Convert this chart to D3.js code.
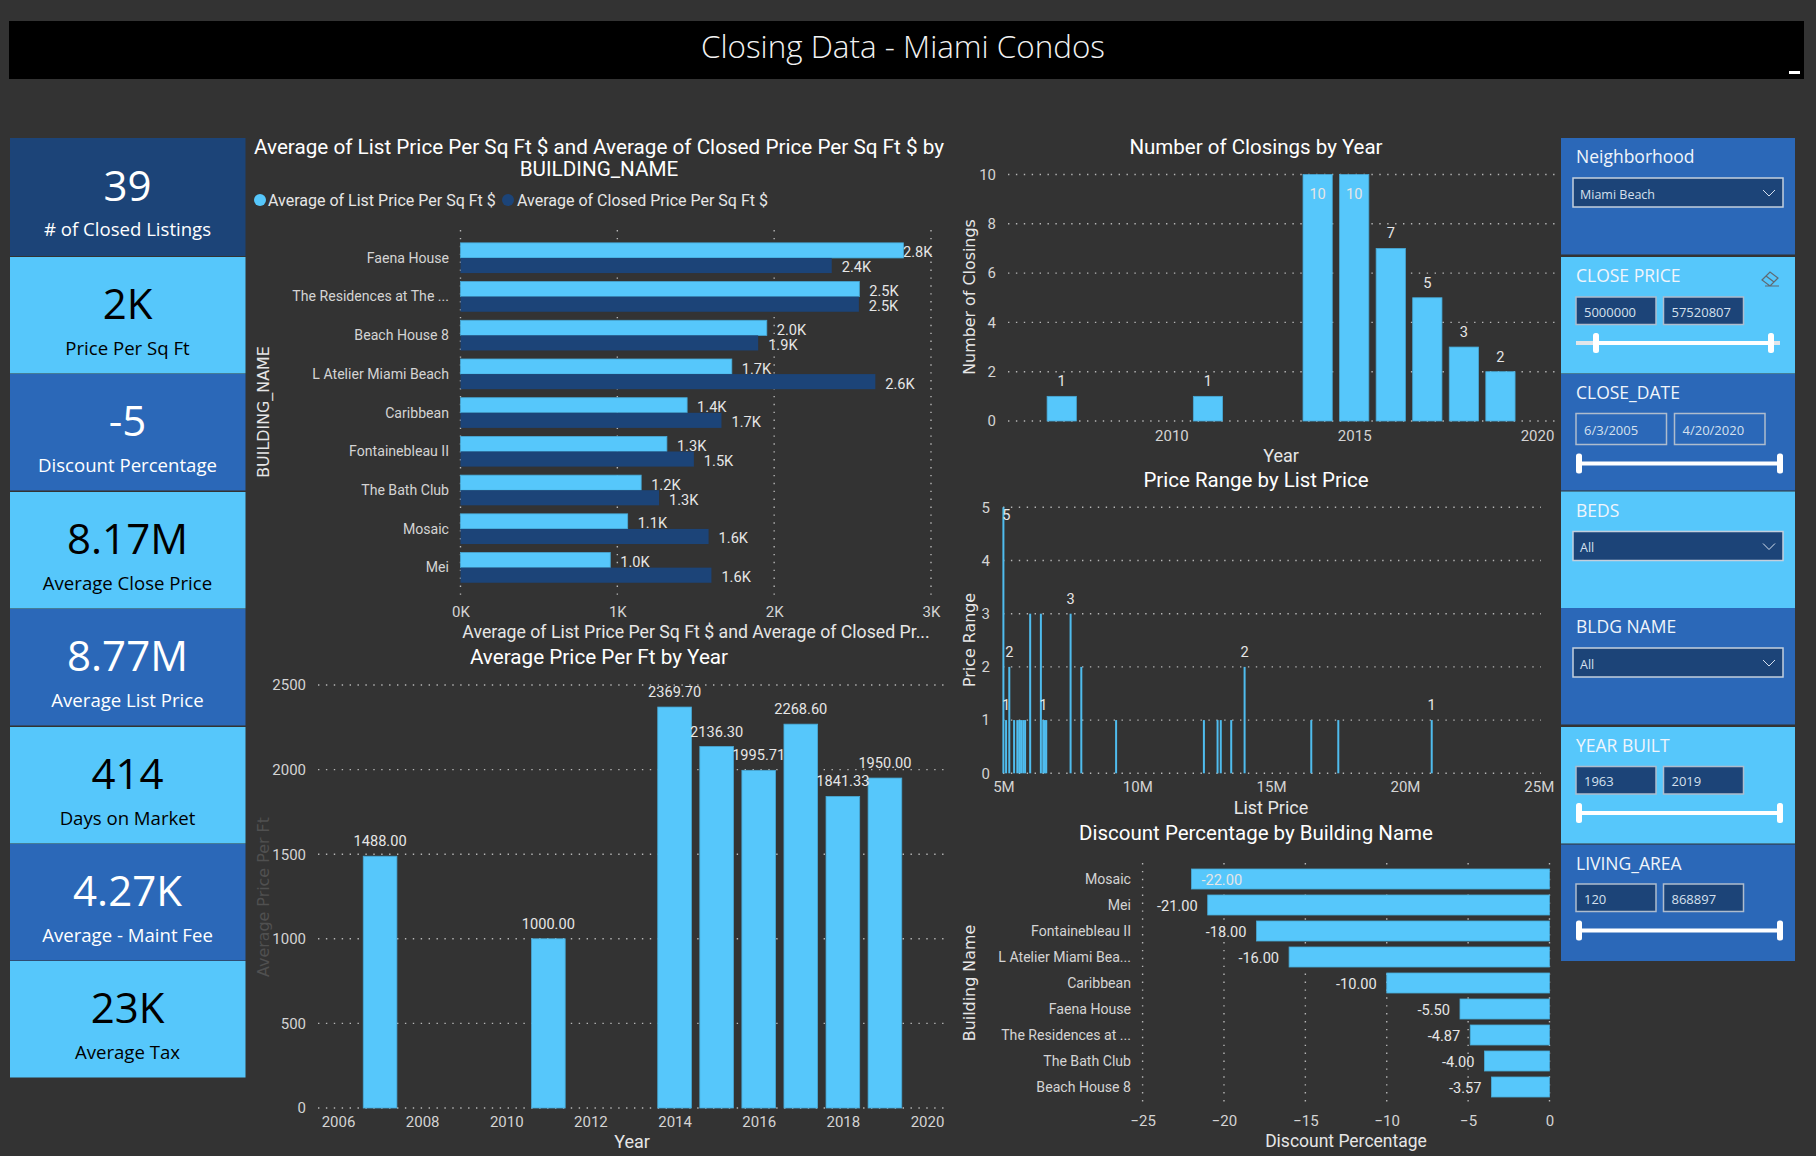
<!DOCTYPE html>
<html>
<head>
<meta charset="UTF-8">
<title>Closing Data - Miami Condos</title>
<style>
    html, body { margin: 0; padding: 0; background: #333333; }
    svg { display: block; }
    text { font-family: "Roboto", sans-serif; fill: #e6e6e6; }
    .seg text, text.seg { font-family: "Open Sans", "Noto Sans", sans-serif; }
    .wide { font-family: "DejaVu Sans", sans-serif; font-size: 15.9px; }
    .tick text { font-size: 15px; fill: #d4d4d4; }
    .domain { display: none; }
    .grid { stroke: #b5b5b5; stroke-width: 1.4; stroke-dasharray: 1.4 6.5; }
    .bar { stroke: #47a9d6; stroke-width: 0.8; }
</style>
</head>
<body>
<script src="https://d3js.org/d3.v7.min.js"></script>
<script>

    var LIGHT = "#56c7fb", MID = "#2b68b8", DARK = "#1c4478";

    // KPI cards
    var cardValues = ["39", "2K", "-5", "8.17M", "8.77M", "414", "4.27K", "23K"];
    var cardLabels = ["# of Closed Listings", "Price Per Sq Ft", "Discount Percentage", "Average Close Price",
        "Average List Price", "Days on Market", "Average - Maint Fee", "Average Tax"];
    var cardFills = [DARK, LIGHT, MID, LIGHT, MID, LIGHT, MID, LIGHT];

    // list vs closed price per sq ft
    var buildings = ["Faena House", "The Residences at The ...", "Beach House 8", "L Atelier Miami Beach", "Caribbean",
        "Fontainebleau II", "The Bath Club", "Mosaic", "Mei"];
    var listPerSqFt = [2824, 2543, 1953, 1730, 1445, 1316, 1152, 1066, 955];
    var closedPerSqFt = [2367, 2540, 1898, 2645, 1664, 1488, 1266, 1582, 1600];

    // average price per ft by year
    var priceYears = [2007, 2011, 2014, 2015, 2016, 2017, 2018, 2019];
    var pricePerFt = [1488.00, 1000.00, 2369.70, 2136.30, 1995.71, 2268.60, 1841.33, 1950.00];

    // closings by year
    var closingYears = [2007, 2011, 2014, 2015, 2016, 2017, 2018, 2019];
    var closings = [1, 1, 10, 10, 7, 5, 3, 2];

    // price range by list price
    var listPrices = [5.0, 5.1, 5.22, 5.4, 5.52, 5.59, 5.66, 5.74, 5.81, 6.0, 6.4, 6.49, 6.55, 6.6, 7.51, 7.91, 9.21,
        12.49, 13.0, 13.12, 13.51, 14.01, 16.5, 17.51, 21.0];
    var rangeCounts = [5, 1, 2, 1, 1, 1, 1, 1, 1, 3, 3, 1, 1, 1, 3, 2, 1, 1, 1, 1, 1, 2, 1, 1, 1];
    var rangeLabelled = [5.0, 5.1, 5.22, 6.49, 7.51, 14.01, 21.0];

    // discount by building
    var discountNames = ["Mosaic", "Mei", "Fontainebleau II", "L Atelier Miami Bea...", "Caribbean", "Faena House",
        "The Residences at ...", "The Bath Club", "Beach House 8"];
    var discounts = [-22, -21, -18, -16, -10, -5.5, -4.87, -4, -3.57];

    var svg = d3.select("body").append("svg")
        .attr("width", 1816)
        .attr("height", 1156);

    function label(parent, str, x, y, size, anchor, fill) {
        return parent.append("text")
            .attr("x", x)
            .attr("y", y)
            .attr("dominant-baseline", "central")
            .attr("text-anchor", anchor || "middle")
            .style("font-size", size + "px")
            .style("fill", fill || "#e6e6e6")
            .text(str);
    }

    function sideways(str, x, y, fill) {
        return svg.append("text")
            .attr("class", "wide")
            .attr("transform", "translate(" + x + "," + y + ") rotate(-90)")
            .attr("dominant-baseline", "central")
            .attr("text-anchor", "middle")
            .style("fill", fill || "#e6e6e6")
            .text(str);
    }

    // the report font is narrower than anything installed, so squeeze the long category names
    function condense(axisGroup, k) {
        axisGroup.selectAll("text").each(function() {
            d3.select(this)
                .attr("lengthAdjust", "spacingAndGlyphs")
                .attr("textLength", this.getComputedTextLength() * k);
        });
    }

    function hGrid(scale, ticks, x1, x2) {
        svg.append("g").selectAll("line")
            .data(ticks)
            .enter().append("line")
            .attr("class", "grid")
            .attr("x1", x1)
            .attr("x2", x2)
            .attr("y1", function(d) { return scale(d); })
            .attr("y2", function(d) { return scale(d); });
    }

    function vGrid(scale, ticks, y1, y2) {
        svg.append("g").selectAll("line")
            .data(ticks)
            .enter().append("line")
            .attr("class", "grid")
            .attr("y1", y1)
            .attr("y2", y2)
            .attr("x1", function(d) { return scale(d); })
            .attr("x2", function(d) { return scale(d); });
    }

    // header
    svg.append("rect").attr("x", 9).attr("y", 21).attr("width", 1795).attr("height", 58).attr("fill", "#000");
    label(svg, "Closing Data - Miami Condos", 903, 45, 31.4, "middle", "#f2f2f2")
        .attr("class", "seg")
        .style("font-weight", 300);
    svg.append("rect").attr("x", 1789).attr("y", 71).attr("width", 11).attr("height", 3).attr("fill", "#fff");

    // cards
    var cardTops = [138, 257, 374, 492, 609, 727, 844, 961];
    var cards = svg.append("g").attr("class", "seg").selectAll("g")
        .data(cardValues)
        .enter().append("g")
        .attr("transform", function(d, i) { return "translate(10," + cardTops[i] + ")"; });
    cards.append("rect")
        .attr("width", 235.5)
        .attr("height", function(d, i) { return i == 0 ? 118 : 116.5; })
        .attr("fill", function(d, i) { return cardFills[i]; });
    cards.append("text")
        .attr("x", 117.5)
        .attr("y", function(d, i) { return i == 0 ? 46.5 : 45.2; })
        .attr("dominant-baseline", "central")
        .attr("text-anchor", "middle")
        .style("font-size", "42px")
        .style("fill", function(d, i) { return cardFills[i] == LIGHT ? "#000" : "#fff"; })
        .text(function(d) { return d; });
    cards.append("text")
        .attr("x", 117.5)
        .attr("y", 90.3)
        .attr("dominant-baseline", "central")
        .attr("text-anchor", "middle")
        .style("font-size", "18.6px")
        .style("fill", function(d, i) { return cardFills[i] == LIGHT ? "#000" : "#fff"; })
        .text(function(d, i) { return cardLabels[i]; });

    // list vs closed price
    label(svg, "Average of List Price Per Sq Ft $ and Average of Closed Price Per Sq Ft $ by", 599, 147, 20.7, "middle", "#fff");
    label(svg, "BUILDING_NAME", 599, 169, 20.7, "middle", "#fff");
    svg.append("circle").attr("cx", 260).attr("cy", 200).attr("r", 6).attr("fill", LIGHT);
    label(svg, "Average of List Price Per Sq Ft $", 268, 200, 16, "start");
    svg.append("circle").attr("cx", 508).attr("cy", 200).attr("r", 6).attr("fill", DARK);
    label(svg, "Average of Closed Price Per Sq Ft $", 517, 200, 16, "start");

    var x1 = d3.scaleLinear().domain([0, 3000]).range([460.5, 931]);
    var y1 = d3.scaleBand().domain(buildings).range([238.6, 587]).paddingInner(0.22).paddingOuter(0.11);
    var y1Sub = d3.scaleBand().domain(["list", "closed"]).range([0, y1.bandwidth()]);

    vGrid(x1, x1.ticks(3), 230, 600);

    var rows = svg.append("g").selectAll("g")
        .data(buildings)
        .enter().append("g")
        .attr("transform", function(d) { return "translate(0," + y1(d) + ")"; });
    rows.append("rect")
        .attr("class", "bar")
        .attr("x", x1(0))
        .attr("y", y1Sub("list"))
        .attr("height", y1Sub.bandwidth())
        .attr("width", function(d, i) { return x1(listPerSqFt[i]) - x1(0); })
        .attr("fill", LIGHT);
    rows.append("rect")
        .attr("x", x1(0))
        .attr("y", y1Sub("closed"))
        .attr("height", y1Sub.bandwidth())
        .attr("width", function(d, i) { return x1(closedPerSqFt[i]) - x1(0); })
        .attr("fill", DARK);
    rows.append("text")
        .attr("x", function(d, i) { return Math.min(x1(listPerSqFt[i]) + 10, 903); })
        .attr("y", y1Sub("list") + y1Sub.bandwidth() / 2 + 2)
        .attr("dominant-baseline", "central")
        .style("font-size", "14.6px")
        .text(function(d, i) { return (listPerSqFt[i] / 1000).toFixed(1) + "K"; });
    rows.append("text")
        .attr("x", function(d, i) { return x1(closedPerSqFt[i]) + 10; })
        .attr("y", y1Sub("closed") + y1Sub.bandwidth() / 2 + 2)
        .attr("dominant-baseline", "central")
        .style("font-size", "14.6px")
        .text(function(d, i) { return (closedPerSqFt[i] / 1000).toFixed(1) + "K"; });

    svg.append("g")
        .attr("transform", "translate(449,0)")
        .call(d3.axisLeft(y1).tickSize(0).tickPadding(0))
        .call(condense, 0.94);
    svg.append("g")
        .attr("transform", "translate(0,606)")
        .call(d3.axisBottom(x1).ticks(3).tickSize(0).tickPadding(0)
            .tickFormat(function(d) { return d / 1000 + "K"; }));
    sideways("BUILDING_NAME", 263, 412);
    label(svg, "Average of List Price Per Sq Ft $ and Average of Closed Pr...", 696, 632, 17.7);

    // average price per ft
    label(svg, "Average Price Per Ft by Year", 599, 657, 20.7, "middle", "#fff");
    var x2 = d3.scaleLinear().domain([2006, 2020]).range([338, 927]);
    var y2 = d3.scaleLinear().domain([0, 2500]).range([1108, 685]);
    var bw2 = (x2(2007) - x2(2006)) * 0.8;

    hGrid(y2, y2.ticks(5), 318, 946);
    svg.append("g").selectAll("rect")
        .data(pricePerFt)
        .enter().append("rect")
        .attr("class", "bar")
        .attr("x", function(d, i) { return x2(priceYears[i]) - bw2 / 2; })
        .attr("y", function(d) { return y2(d); })
        .attr("width", bw2)
        .attr("height", function(d) { return y2(0) - y2(d); })
        .attr("fill", LIGHT);
    svg.append("g").selectAll("text")
        .data(pricePerFt)
        .enter().append("text")
        .attr("x", function(d, i) { return x2(priceYears[i]); })
        .attr("y", function(d) { return y2(d) - 15; })
        .attr("dominant-baseline", "central")
        .attr("text-anchor", "middle")
        .style("font-size", "14.6px")
        .text(function(d) { return d.toFixed(2); });
    svg.append("g")
        .attr("transform", "translate(306,0)")
        .call(d3.axisLeft(y2).ticks(5).tickSize(0).tickPadding(0).tickFormat(d3.format("d")));
    svg.append("g")
        .attr("transform", "translate(0,1116)")
        .call(d3.axisBottom(x2).ticks(7).tickSize(0).tickPadding(0).tickFormat(d3.format("d")));
    sideways("Average Price Per Ft", 263, 897, "#505050");
    label(svg, "Year", 632, 1141, 18);

    // closings by year
    label(svg, "Number of Closings by Year", 1256, 147, 20.5, "middle", "#fff");
    var x3 = d3.scaleLinear().domain([2010, 2020]).range([1171.4, 1537]);
    var y3 = d3.scaleLinear().domain([0, 10]).range([421, 174.5]);
    var bw3 = (x3(2011) - x3(2010)) * 0.8;

    hGrid(y3, y3.ticks(5), 1008, 1556);
    svg.append("g").selectAll("rect")
        .data(closings)
        .enter().append("rect")
        .attr("class", "bar")
        .attr("x", function(d, i) { return x3(closingYears[i]) - bw3 / 2; })
        .attr("y", function(d) { return y3(d); })
        .attr("width", bw3)
        .attr("height", function(d) { return y3(0) - y3(d); })
        .attr("fill", LIGHT);
    svg.append("g").selectAll("text")
        .data(closings)
        .enter().append("text")
        .attr("x", function(d, i) { return x3(closingYears[i]); })
        .attr("y", function(d) { return d == 10 ? y3(d) + 19 : y3(d) - 15; })
        .attr("dominant-baseline", "central")
        .attr("text-anchor", "middle")
        .style("font-size", "14.6px")
        .text(function(d) { return d; });
    svg.append("g")
        .attr("transform", "translate(996,0)")
        .call(d3.axisLeft(y3).ticks(5).tickSize(0).tickPadding(0));
    svg.append("g")
        .attr("transform", "translate(0,430)")
        .call(d3.axisBottom(x3).tickValues([2010, 2015, 2020]).tickSize(0).tickPadding(0).tickFormat(d3.format("d")));
    sideways("Number of Closings", 969, 297);
    label(svg, "Year", 1281, 455, 18);

    // price range by list price
    label(svg, "Price Range by List Price", 1256, 480, 20.5, "middle", "#fff");
    var x4 = d3.scaleLinear().domain([5, 25]).range([1003.4, 1538.8]);
    var y4 = d3.scaleLinear().domain([0, 5]).range([773.3, 507.3]);

    hGrid(y4, y4.ticks(5), 1003, 1541);
    svg.append("g").selectAll("rect")
        .data(rangeCounts)
        .enter().append("rect")
        .attr("x", function(d, i) { return x4(listPrices[i]) - 1; })
        .attr("y", function(d) { return y4(d); })
        .attr("width", 2)
        .attr("height", function(d) { return y4(0) - y4(d); })
        .attr("fill", "#4fbcee");
    svg.append("g").selectAll("text")
        .data(rangeLabelled)
        .enter().append("text")
        .attr("x", function(d) { return x4(d) + (d == 5 ? 3 : 0); })
        .attr("y", function(d) {
            var n = rangeCounts[listPrices.indexOf(d)];
            return d == 5 ? y4(n) + 8 : y4(n) - 15;
        })
        .attr("dominant-baseline", "central")
        .attr("text-anchor", "middle")
        .style("font-size", "14.6px")
        .text(function(d) { return rangeCounts[listPrices.indexOf(d)]; });
    svg.append("g")
        .attr("transform", "translate(990,0)")
        .call(d3.axisLeft(y4).ticks(5).tickSize(0).tickPadding(0));
    svg.append("g")
        .attr("transform", "translate(0,781)")
        .call(d3.axisBottom(x4).ticks(5).tickSize(0).tickPadding(0).tickFormat(function(d) { return d + "M"; }));
    sideways("Price Range", 969, 640);
    label(svg, "List Price", 1271, 807, 18);

    // discount by building
    label(svg, "Discount Percentage by Building Name", 1256, 833, 20.5, "middle", "#fff");
    var x5 = d3.scaleLinear().domain([-25, 0]).range([1142.6, 1549.5]);
    var y5 = d3.scaleBand().domain(discountNames).range([866, 1100]).paddingInner(0.23).paddingOuter(0.115);

    vGrid(x5, x5.ticks(5), 863, 1103);
    svg.append("g").selectAll("rect")
        .data(discounts)
        .enter().append("rect")
        .attr("class", "bar")
        .attr("x", function(d) { return x5(d); })
        .attr("y", function(d, i) { return y5(discountNames[i]); })
        .attr("width", function(d) { return x5(0) - x5(d); })
        .attr("height", y5.bandwidth())
        .attr("fill", LIGHT);
    svg.append("g").selectAll("text")
        .data(discounts)
        .enter().append("text")
        .attr("x", function(d, i) { return i == 0 ? x5(d) + 10 : x5(d) - 10; })
        .attr("y", function(d, i) { return y5(discountNames[i]) + y5.bandwidth() / 2 + 1; })
        .attr("dominant-baseline", "central")
        .attr("text-anchor", function(d, i) { return i == 0 ? "start" : "end"; })
        .style("font-size", "14.6px")
        .text(function(d) { return d.toFixed(2); });
    svg.append("g")
        .attr("transform", "translate(1131,0)")
        .call(d3.axisLeft(y5).tickSize(0).tickPadding(0))
        .call(condense, 0.94);
    svg.append("g")
        .attr("transform", "translate(0,1115)")
        .call(d3.axisBottom(x5).ticks(5).tickSize(0).tickPadding(0));
    sideways("Building Name", 969, 983);
    label(svg, "Discount Percentage", 1346, 1141, 17.5);

    // slicers
    var slicerNames = ["Neighborhood", "CLOSE PRICE", "CLOSE_DATE", "BEDS", "BLDG NAME", "YEAR BUILT", "LIVING_AREA"];
    var slicerTops = [138, 257, 374, 491.5, 608, 727, 844.5];
    var slicerFills = [MID, LIGHT, MID, LIGHT, MID, LIGHT, MID];
    var slicerDrop = ["Miami Beach", null, null, "All", "All", null, null];
    var slicerLow = [null, "5000000", "6/3/2005", null, null, "1963", "120"];
    var slicerHigh = [null, "57520807", "4/20/2020", null, null, "2019", "868897"];

    var slicers = svg.append("g").attr("class", "seg").selectAll("g")
        .data(slicerNames)
        .enter().append("g")
        .attr("transform", function(d, i) { return "translate(1561," + slicerTops[i] + ")"; })
        .each(function(d, i) {
            var g = d3.select(this);
            g.append("rect").attr("width", 234).attr("height", 116.5).attr("fill", slicerFills[i]);
            label(g, d, 15, 18.4, 17.5, "start", "#f0f5fb");
            if (slicerDrop[i]) {
                g.append("rect").attr("x", 12).attr("y", 40).attr("width", 210).attr("height", 29)
                    .attr("fill", DARK).attr("stroke", "#c3cfdd").attr("stroke-width", 1.5);
                label(g, slicerDrop[i], 19, 56, 12.5, "start", "#d5e0ee");
                g.append("path").attr("d", "M202,52l6,6l6,-6").attr("fill", "none").attr("stroke", "#d5e0ee");
            } else {
                var isDate = i == 2;
                var w = isDate ? 90.5 : 80;
                var gap = isDate ? 8 : 7.5;
                var boxY = i == 2 ? 39.5 : (i == 1 ? 40 : 39.5);
                var boxH = isDate ? 31 : 27.5;
                [slicerLow[i], slicerHigh[i]].forEach(function(v, k) {
                    var bx = 15 + k * (w + gap);
                    g.append("rect").attr("x", bx).attr("y", boxY).attr("width", w).attr("height", boxH)
                        .attr("fill", isDate ? MID : DARK).attr("stroke", "#aebccd").attr("stroke-width", 1.5);
                    label(g, v, bx + 8, boxY + boxH / 2 + 1, 13, "start", "#d5e0ee");
                });
                var sy = isDate ? 89.5 : 86;
                var h1 = i == 1 ? 35 : 18;
                var h2 = i == 1 ? 210 : 219;
                if (i == 1) {
                    g.append("line").attr("x1", 15).attr("x2", 219).attr("y1", sy).attr("y2", sy)
                        .attr("stroke", "#e2e6ea").attr("stroke-width", 4);
                }
                g.append("line").attr("x1", h1).attr("x2", h2).attr("y1", sy).attr("y2", sy)
                    .attr("stroke", "#fff").attr("stroke-width", 4);
                [h1, h2].forEach(function(hx) {
                    g.append("rect").attr("x", hx - 3).attr("y", sy - 10).attr("width", 6).attr("height", 20)
                        .attr("rx", 2.5).attr("fill", "#fff");
                });
            }
        });

    // eraser icon on the close price slicer
    svg.append("path")
        .attr("d", "M1762,280l8,-8l8,6l-8,8zM1766,276l8,6M1765,286h14")
        .attr("fill", "none")
        .attr("stroke", "#5f6a73")
        .attr("stroke-width", 1.2);

</script>
</body>
</html>
